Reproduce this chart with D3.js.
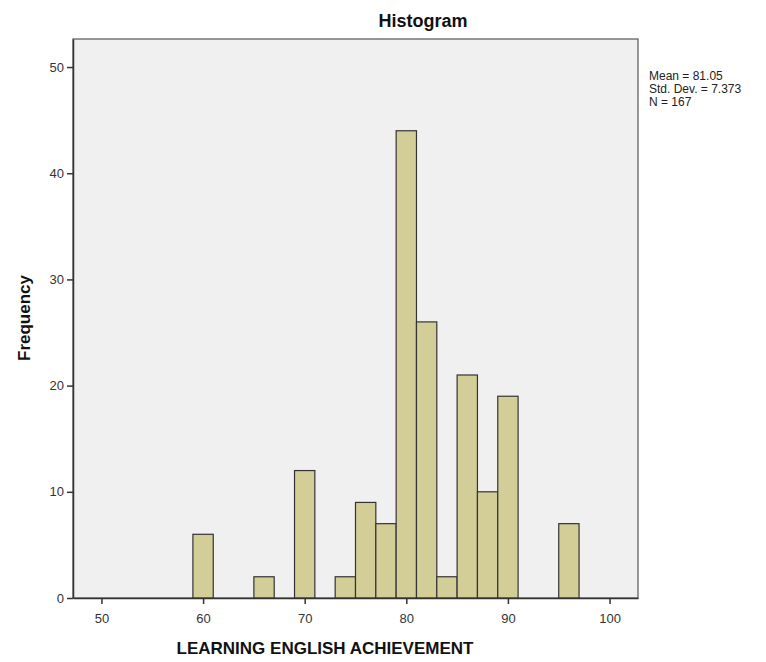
<!DOCTYPE html>
<html>
<head>
<meta charset="utf-8">
<script src="https://cdn.jsdelivr.net/npm/d3@7"></script>
<style>
  body { margin: 0; background: #fff; }
  text { font-family: Arial, "Liberation Sans", sans-serif; }
</style>
</head>
<body>
<div id="chart"></div>
<script>
// bins of width 2, lower edge -> count
const binStarts = [59, 65, 69, 73, 75, 77, 79, 81, 83, 85, 87, 89, 95];
const counts = [6, 2, 12, 2, 9, 7, 44, 26, 2, 21, 10, 19, 7];
const binWidth = 2;
const xTicks = [50, 60, 70, 80, 90, 100];
const yTicks = [0, 10, 20, 30, 40, 50];
const stats = ['Mean = 81.05', 'Std. Dev. = 7.373', 'N = 167'];

const width = 766, height = 662;
const margin = {left: 73, right: 128, top: 39, bottom: 64};

const svg = d3.select('#chart')
  .append('svg')
  .attr('width', width)
  .attr('height', height);

const x = d3.scaleLinear()
  .domain([47.2, 102.8])
  .range([margin.left, width - margin.right]);

const y = d3.scaleLinear()
  .domain([0, 52.64])
  .range([height - margin.bottom, margin.top]);

// plot background
svg.append('rect')
  .attr('x', x.range()[0])
  .attr('y', y.range()[1])
  .attr('width', x.range()[1] - x.range()[0])
  .attr('height', y.range()[0] - y.range()[1])
  .attr('fill', '#f0f0f0')
  .attr('stroke', '#555')
  .attr('stroke-width', 1.2);

// bars
svg.selectAll('rect.bar')
  .data(binStarts.map((s, i) => ({s, n: counts[i]})))
  .join('rect')
    .attr('class', 'bar')
    .attr('x', d => x(d.s))
    .attr('y', d => y(d.n))
    .attr('width', d => x(d.s + binWidth) - x(d.s))
    .attr('height', d => y(0) - y(d.n))
    .attr('fill', '#d3ce97')
    .attr('stroke', '#333')
    .attr('stroke-width', 1.2);

// axes
const xAxis = svg.append('g')
  .attr('transform', `translate(0,${y(0)})`)
  .call(d3.axisBottom(x).tickValues(xTicks).tickSize(6).tickSizeOuter(0));

const yAxis = svg.append('g')
  .attr('transform', `translate(${x.range()[0]},0)`)
  .call(d3.axisLeft(y).tickValues(yTicks).tickSize(6).tickSizeOuter(0));

[xAxis, yAxis].forEach(g => {
  g.select('.domain').attr('stroke', '#333').attr('stroke-width', 1.5);
  g.selectAll('.tick line').attr('stroke', '#333').attr('stroke-width', 1.5);
  g.selectAll('.tick text')
    .attr('fill', '#333')
    .style('font-size', '13px')
    .style('font-family', 'Arial, "Liberation Sans", sans-serif');
});
xAxis.selectAll('.tick text').attr('dy', '1.25em');
yAxis.selectAll('.tick text').attr('x', -9);

// titles
svg.append('text')
  .attr('x', 423)
  .attr('y', 27)
  .attr('text-anchor', 'middle')
  .style('font-size', '18px')
  .style('font-weight', 'bold')
  .attr('fill', '#111')
  .text('Histogram');

svg.append('text')
  .attr('x', 325)
  .attr('y', 654)
  .attr('text-anchor', 'middle')
  .style('font-size', '17px')
  .style('font-weight', 'bold')
  .attr('fill', '#111')
  .text('LEARNING ENGLISH ACHIEVEMENT');

svg.append('text')
  .attr('transform', 'translate(30,318) rotate(-90)')
  .attr('text-anchor', 'middle')
  .style('font-size', '17px')
  .style('font-weight', 'bold')
  .attr('fill', '#111')
  .text('Frequency');

// stats legend
svg.append('g')
  .selectAll('text')
  .data(stats)
  .join('text')
    .attr('x', 649)
    .attr('y', (d, i) => 80 + i * 13)
    .style('font-size', '12px')
    .attr('fill', '#222')
    .text(d => d);
</script>
</body>
</html>
